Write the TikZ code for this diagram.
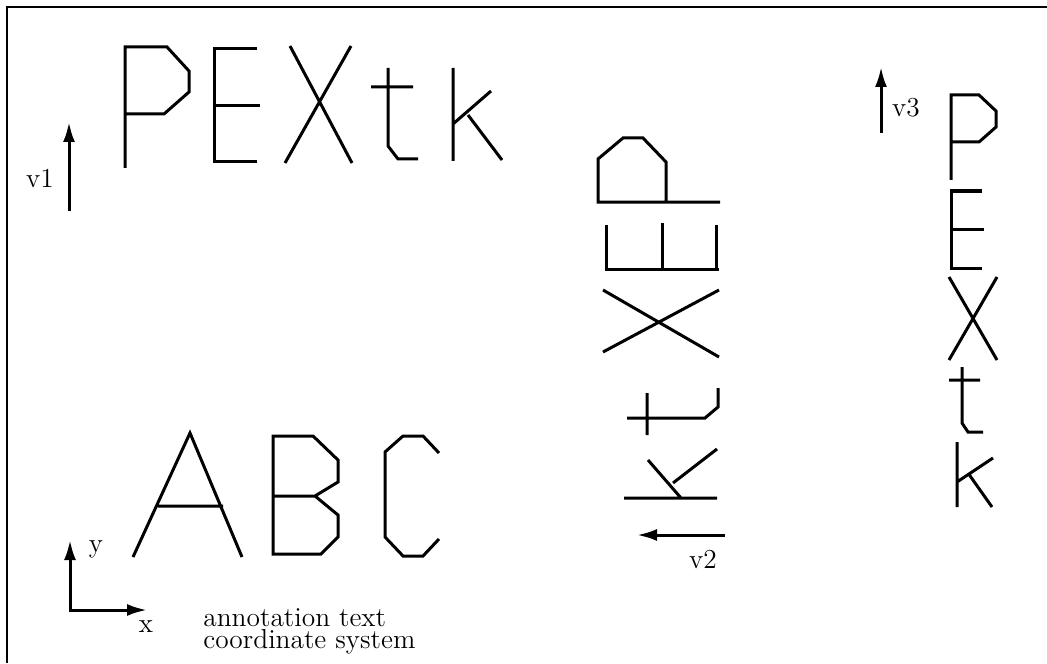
\documentclass[tikz,border=0pt]{standalone}
\usepackage{tikz}
\usetikzlibrary{arrows.meta}

\begin{document}
\begin{tikzpicture}[
  x=0.5pt, y=-0.5pt,
  glyph/.style={line width=1.5pt},
  vec/.style={line width=1.5pt, -{Latex[length=10pt,width=6pt]}},
  axes/.style={line width=1.5pt, {Latex[length=10pt,width=6pt]}-{Latex[length=10pt,width=6pt]}},
  lbl/.style={font=\fontsize{13.7}{15}\selectfont, anchor=base, inner sep=0pt},
  note/.style={font=\fontsize{13.7}{11}\selectfont, align=left, anchor=north west, inner sep=0pt}
]
  \useasboundingbox (0,0) rectangle (1047,663);
  \draw[line width=1pt] (7,663) -- (7,7) -- (1047,7);

  % top row, along v1
  \draw[glyph] (125,168) -- (125,47) -- (167,47) -- (189,71) -- (189,92) -- (164,114) -- (125,114);
  \draw[glyph] (257,49) -- (214,49) -- (214,162) -- (257,162) (214,106) -- (260,106);
  \draw[glyph] (290,46) -- (352,163) (351,46) -- (285,163);
  \draw[glyph] (388,68) -- (388,146) -- (398,159) -- (418,159) (371,87) -- (413,87);
  \draw[glyph] (453,68) -- (453,161) (453,124) -- (491,91) (468,115) -- (502,160);

  \coordinate (v1tail) at (69,211);
  \coordinate (v1head) at (69,122);
  \draw[vec] (v1tail) -- (v1head);
  \node[lbl] (v1) at (40,187) {v1};

  % middle column, turned, along v2
  \draw[glyph] (720,202) -- (598,202) -- (598,159) -- (623,138) -- (643,138) -- (666,162) -- (666,202);
  \draw[glyph] (606,225) -- (606,269) -- (719,269) (716,225) -- (716,269) (662,223) -- (662,269);
  \draw[glyph] (603,290) -- (719,357) (603,352) -- (719,290);
  \draw[glyph] (627,418) -- (705,418) -- (718,407) -- (718,388) (647,393) -- (647,435);
  \draw[glyph] (624,498) -- (717,498) (648,460) -- (681,498) (673,483) -- (717,449);

  \coordinate (v2tail) at (725,535);
  \coordinate (v2head) at (637,535);
  \draw[vec] (v2tail) -- (v2head);
  \node[lbl] (v2) at (703,568) {v2};

  % right column, along v3
  \draw[glyph] (951,180) -- (951,95) -- (979,95) -- (996,111) -- (996,127) -- (979,142) -- (951,142);
  \draw[glyph] (982,191) -- (951,191) -- (951,268) -- (982,268) (951,229) -- (984,229);
  \draw[glyph] (949,277) -- (997,360) (997,277) -- (949,360);
  \draw[glyph] (962,367) -- (962,423) -- (968,432) -- (983,432) (949,380) -- (980,380);
  \draw[glyph] (957,442) -- (957,507) (957,482) -- (993,458) (968,473) -- (992,507);

  \coordinate (v3tail) at (881,133);
  \coordinate (v3head) at (881,67);
  \draw[vec] (v3tail) -- (v3head);
  \node[lbl] (v3) at (906,117) {v3};

  % ABC
  \draw[glyph] (133,557) -- (190,433) -- (242,557) (158,506) -- (223,506);
  \draw[glyph] (273,496) -- (315,496) -- (338,482) -- (338,460) -- (313,436) -- (273,436) -- (273,554)
    -- (321,554) -- (338,537) -- (338,515) -- (315,496);
  \draw[glyph] (439,453) -- (423,436) -- (403,436) -- (385,452) -- (385,537) -- (403,556) -- (423,556) -- (439,539);

  % coordinate system
  \coordinate (origin) at (70,610);
  \coordinate (yend) at (70,540);
  \coordinate (xend) at (147,610);
  \draw[axes] (yend) -- (origin) -- (xend);
  \node[lbl] (ylbl) at (96,552) {y};
  \node[lbl] (xlbl) at (146,632) {x};

  \node[note] (annot) at (203,608) {annotation text\\coordinate system};
\end{tikzpicture}
\end{document}
